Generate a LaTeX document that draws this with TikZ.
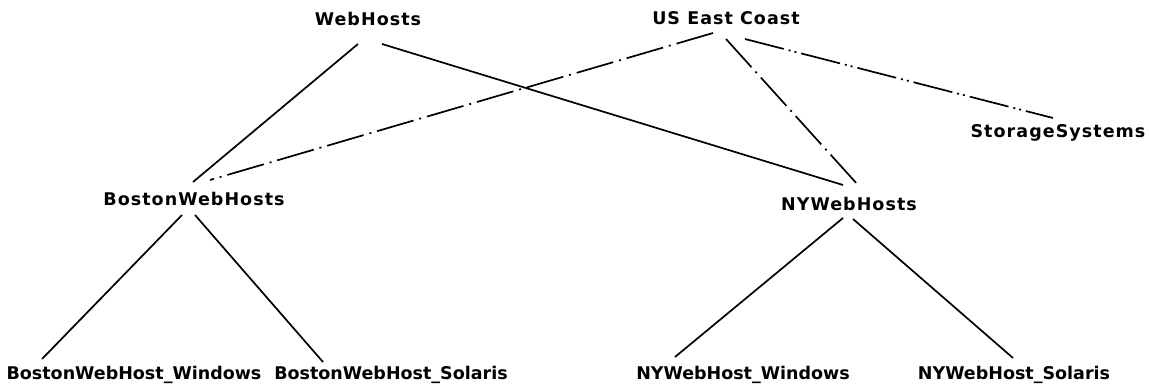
\documentclass[tikz,border=0pt]{standalone}
\usepackage{fontspec}
\setmainfont{DejaVu Sans}
\newfontfamily\wideflbl[LetterSpace=6]{DejaVu Sans}
\usetikzlibrary{calc}
\tikzset{
  lbl/.style={anchor=base, inner sep=0pt, font=\bfseries\fontsize{17.5}{20}\selectfont},
  toplbl/.style={lbl, font=\wideflbl\bfseries\fontsize{17.5}{20}\selectfont},
  link/.style={line width=1.7pt},
  dd/.style={line width=1.7pt, dash pattern=on 38pt off 6pt on 2pt off 6pt},
  ddd/.style={line width=1.7pt, dash pattern=on 40pt off 5pt on 2pt off 4pt on 2pt off 5pt}
}
\begin{document}
\begin{tikzpicture}[x=1pt,y=-1pt]
\useasboundingbox (0,0) rectangle (1149,385);
\node[toplbl] (web) at (368,26) {WebHosts};
\node[toplbl] (us) at (726,25) {US East Coast};
\node[toplbl] (st) at (1058,138) {StorageSystems};
\node[toplbl] (bos) at (194,205) {BostonWebHosts};
\node[toplbl] (ny) at (849,210) {NYWebHosts};
\node[lbl] (bw) at (134,379) {BostonWebHost\_Windows};
\node[lbl] (bs) at (391,379) {BostonWebHost\_Solaris};
\node[lbl] (nw) at (743,379) {NYWebHost\_Windows};
\node[lbl] (ns) at (1014,379) {NYWebHost\_Solaris};
\draw[link] ($(web.base)+(-10,18)$) -- ($(bos.base)+(-1,-23)$);
\draw[link] ($(web.base)+(14,18)$) -- ($(ny.base)+(-6,-25)$);
\draw[dd] ($(us.base)+(-13,8)$) -- ($(bos.base)+(16,-25)$);
\draw[dd] ($(us.base)+(0,14)$) -- ($(ny.base)+(9,-25)$);
\draw[ddd] ($(us.base)+(19,14)$) -- ($(st.base)+(-5,-20)$);
\draw[link] ($(bos.base)+(-12,10)$) -- ($(bw.base)+(-92,-20)$);
\draw[link] ($(bos.base)+(1,10)$) -- ($(bs.base)+(-68,-17)$);
\draw[link] ($(ny.base)+(-6,8)$) -- ($(nw.base)+(-68,-22)$);
\draw[link] ($(ny.base)+(4,9)$) -- ($(ns.base)+(-1,-21)$);
\end{tikzpicture}
\end{document}
